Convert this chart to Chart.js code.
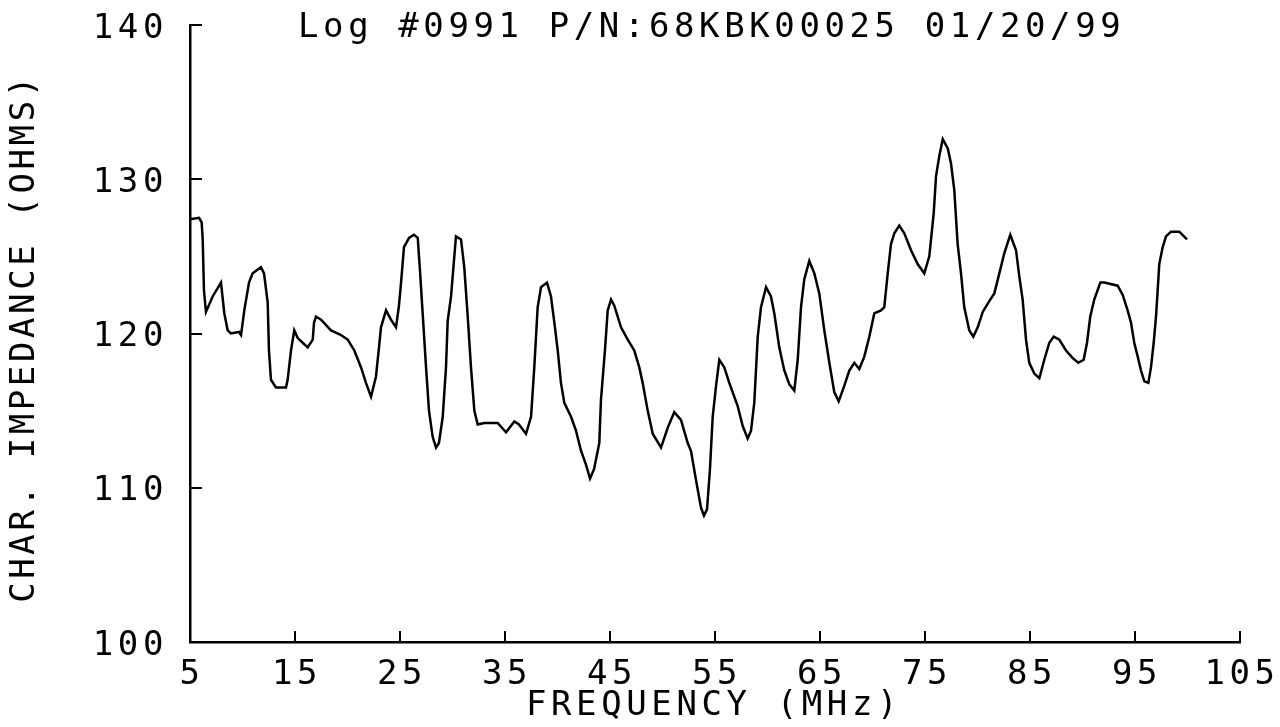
<!DOCTYPE html>
<html>
<head>
<meta charset="utf-8">
<script src="https://cdn.jsdelivr.net/npm/chart.js@4/dist/chart.umd.min.js"></script>
<style>
  html, body { margin: 0; padding: 0; background: #ffffff; }
  canvas { display: block; }
</style>
</head>
<body>
<canvas id="impedanceChart" width="1280" height="727"></canvas>
<script>
// Characteristic impedance sweep, 5–100 MHz
const freqMHz = [
  5.0, 5.86, 6.11, 6.21, 6.33, 6.52, 7.16, 7.95, 8.27, 8.59, 8.90, 9.67, 9.86,
  10.17, 10.62, 10.97, 11.76, 12.05, 12.40, 12.52, 12.71, 13.19, 14.14, 14.30,
  14.62, 14.93, 15.26, 15.73, 16.21, 16.69, 16.81, 17.00, 17.48, 18.43, 19.38,
  20.02, 20.65, 21.29, 21.76, 22.24, 22.71, 23.00, 23.19, 23.67, 24.14, 24.62,
  24.90, 25.10, 25.38, 25.86, 26.33, 26.69, 26.90, 27.16, 27.48, 27.76, 28.11,
  28.43, 28.71, 29.07, 29.38, 29.54, 29.86, 30.33, 30.81, 31.12, 31.45, 31.76,
  32.08, 32.40, 33.03, 34.30, 35.10, 35.89, 36.33, 37.00, 37.48, 37.79, 38.11,
  38.43, 39.00, 39.38, 39.70, 40.02, 40.33, 40.65, 41.29, 41.76, 42.24, 42.71,
  43.10, 43.48, 43.98, 44.14, 44.52, 44.78, 45.10, 45.41, 46.05, 46.69, 47.31,
  47.79, 48.11, 48.59, 49.07, 49.86, 50.50, 51.12, 51.76, 52.40, 52.71, 53.19,
  53.67, 53.95, 54.24, 54.52, 54.78, 55.10, 55.41, 55.89, 56.36, 57.16, 57.64,
  58.11, 58.43, 58.74, 59.07, 59.38, 59.86, 60.33, 60.65, 61.12, 61.60, 62.08,
  62.55, 62.88, 63.19, 63.50, 63.98, 64.46, 64.93, 65.41, 65.89, 66.36, 66.78,
  67.31, 67.79, 68.27, 68.74, 69.22, 69.70, 70.17, 70.81, 71.12, 71.45, 71.76,
  72.08, 72.55, 73.03, 73.67, 74.30, 74.93, 75.41, 75.83, 76.05, 76.36, 76.69,
  77.17, 77.48, 77.79, 78.11, 78.43, 78.74, 79.22, 79.60, 80.02, 80.50, 81.12,
  81.60, 82.08, 82.55, 83.12, 83.67, 83.98, 84.30, 84.62, 84.93, 85.41, 85.89,
  86.36, 86.84, 87.26, 87.79, 88.43, 89.07, 89.60, 90.11, 90.43, 90.74, 91.12,
  91.70, 92.08, 93.35, 93.83, 94.30, 94.62, 94.93, 95.26, 95.57, 95.89, 96.27,
  96.52, 96.78, 97.00, 97.16, 97.31, 97.64, 97.95, 98.43, 99.22, 99.95
];
const impedanceOhms = [
  127.4, 127.5, 127.2, 126.1, 122.8, 121.4, 122.4, 123.3, 121.3, 120.2, 120.0, 120.1, 119.9,
  121.5, 123.3, 123.9, 124.3, 123.9, 122.0, 118.9, 117.0, 116.5, 116.5, 117.0,
  118.9, 120.2, 119.7, 119.4, 119.1, 119.6, 120.7, 121.1, 120.9, 120.2, 119.9,
  119.6, 118.9, 117.8, 116.8, 115.9, 117.2, 119.1, 120.4, 121.5, 120.9, 120.4,
  121.8, 123.3, 125.6, 126.2, 126.4, 126.2, 124.1, 121.3, 117.8, 115.0, 113.3,
  112.6, 112.9, 114.6, 117.8, 120.8, 122.4, 126.3, 126.1, 124.3, 121.1, 117.8,
  115.0, 114.1, 114.2, 114.2, 113.6, 114.3, 114.1, 113.5, 114.6, 117.8, 121.7,
  123.0, 123.3, 122.4, 120.7, 118.9, 116.8, 115.5, 114.6, 113.7, 112.4, 111.5,
  110.6, 111.2, 112.9, 115.7, 118.9, 121.5, 122.2, 121.8, 120.4, 119.6, 118.9,
  117.8, 116.8, 115.0, 113.5, 112.6, 113.9, 114.9, 114.4, 112.9, 112.4, 110.5,
  108.7, 108.2, 108.6, 111.2, 114.6, 116.6, 118.3, 117.8, 116.8, 115.3, 114.0,
  113.2, 113.7, 115.5, 119.8, 121.7, 123.0, 122.4, 121.3, 119.1, 117.6, 116.7,
  116.3, 118.3, 121.7, 123.5, 124.7, 123.9, 122.6, 120.2, 118.1, 116.2, 115.6,
  116.6, 117.6, 118.1, 117.7, 118.5, 119.8, 121.3, 121.5, 121.7, 123.9, 125.8,
  126.5, 127.0, 126.5, 125.4, 124.5, 123.9, 125.0, 127.8, 130.2, 131.5, 132.6,
  132.0, 131.0, 129.3, 125.8, 123.9, 121.7, 120.2, 119.8, 120.4, 121.4, 122.1,
  122.6, 123.9, 125.2, 126.4, 125.4, 123.7, 122.2, 119.6, 118.1, 117.4, 117.1,
  118.3, 119.4, 119.8, 119.6, 118.9, 118.4, 118.1, 118.3, 119.4, 121.1, 122.2,
  123.3, 123.3, 123.1, 122.5, 121.5, 120.7, 119.4, 118.5, 117.6, 116.9, 116.8,
  117.8, 119.4, 121.1, 122.8, 124.5, 125.6, 126.3, 126.6, 126.6, 126.1
];

const xTickValues = [5, 15, 25, 35, 45, 55, 65, 75, 85, 95, 105];
const yTickValues = [100, 110, 120, 130, 140];

const titleText = 'Log #0991 P/N:68KBK00025 01/20/99';
const xAxisTitle = 'FREQUENCY (MHz)';
const yAxisTitle = 'CHAR. IMPEDANCE (OHMS)';

const INK = '#000000';
const PLOT_FONT = '34px "DejaVu Sans Mono", "Liberation Mono", monospace';
const PLOT_SPACING = '4.6px';
const Y_TITLE_SPACING = '3.6px';

const points = freqMHz.map((f, i) => ({ x: f, y: impedanceOhms[i] }));

// Plotter-style furniture: inward ticks, labels and titles
const plotterFurniture = {
  id: 'plotterFurniture',
  afterDraw(chart) {
    const { ctx, chartArea, scales } = chart;
    const xs = scales.x, ys = scales.y;
    ctx.save();
    ctx.strokeStyle = INK;
    ctx.lineWidth = 2;

    // y ticks point into the plot
    yTickValues.forEach(v => {
      if (v === ys.min) return;
      const py = Math.round(ys.getPixelForValue(v));
      ctx.beginPath();
      ctx.moveTo(chartArea.left, py);
      ctx.lineTo(chartArea.left + 12, py);
      ctx.stroke();
    });
    // x ticks point up
    xTickValues.forEach(v => {
      if (v === xs.min) return;
      const px = Math.round(xs.getPixelForValue(v));
      ctx.beginPath();
      ctx.moveTo(px, chartArea.bottom);
      ctx.lineTo(px, chartArea.bottom - 11);
      ctx.stroke();
    });

    ctx.fillStyle = INK;
    ctx.font = PLOT_FONT;
    ctx.letterSpacing = PLOT_SPACING;
    ctx.textBaseline = 'alphabetic';

    // y tick labels
    ctx.textAlign = 'right';
    yTickValues.forEach(v => {
      const py = ys.getPixelForValue(v);
      ctx.fillText(String(v), 168, py + 12.5);
    });

    // x tick labels
    ctx.textAlign = 'center';
    xTickValues.forEach(v => {
      const px = xs.getPixelForValue(v);
      ctx.fillText(String(v), px + 2, chartArea.bottom + 42);
    });

    // x axis title
    ctx.fillText(xAxisTitle, 714, 715);

    // chart title
    ctx.textAlign = 'left';
    ctx.fillText(titleText, 298, 37);

    // y axis title, reading upward
    ctx.save();
    ctx.letterSpacing = Y_TITLE_SPACING;
    ctx.translate(34, 338);
    ctx.rotate(-Math.PI / 2);
    ctx.textAlign = 'center';
    ctx.fillText(yAxisTitle, 0, 0);
    ctx.restore();

    ctx.restore();
  }
};

new Chart(document.getElementById('impedanceChart'), {
  type: 'line',
  data: {
    datasets: [{
      data: points,
      borderColor: INK,
      borderWidth: 2.5,
      pointRadius: 0,
      tension: 0,
      fill: false
    }]
  },
  options: {
    responsive: false,
    animation: false,
    devicePixelRatio: 1,
    layout: { padding: { left: 190, right: 40, top: 25, bottom: 85 } },
    plugins: { legend: { display: false }, tooltip: { enabled: false }, title: { display: false } },
    scales: {
      x: {
        type: 'linear',
        min: 5,
        max: 105,
        grid: { display: false },
        border: { display: true, color: INK, width: 2.5 },
        ticks: { display: false },
        afterFit: s => { s.height = 0; }
      },
      y: {
        type: 'linear',
        min: 100,
        max: 140,
        grid: { display: false },
        border: { display: true, color: INK, width: 2.5 },
        ticks: { display: false },
        afterFit: s => { s.width = 0; }
      }
    }
  },
  plugins: [plotterFurniture]
});
</script>
</body>
</html>
